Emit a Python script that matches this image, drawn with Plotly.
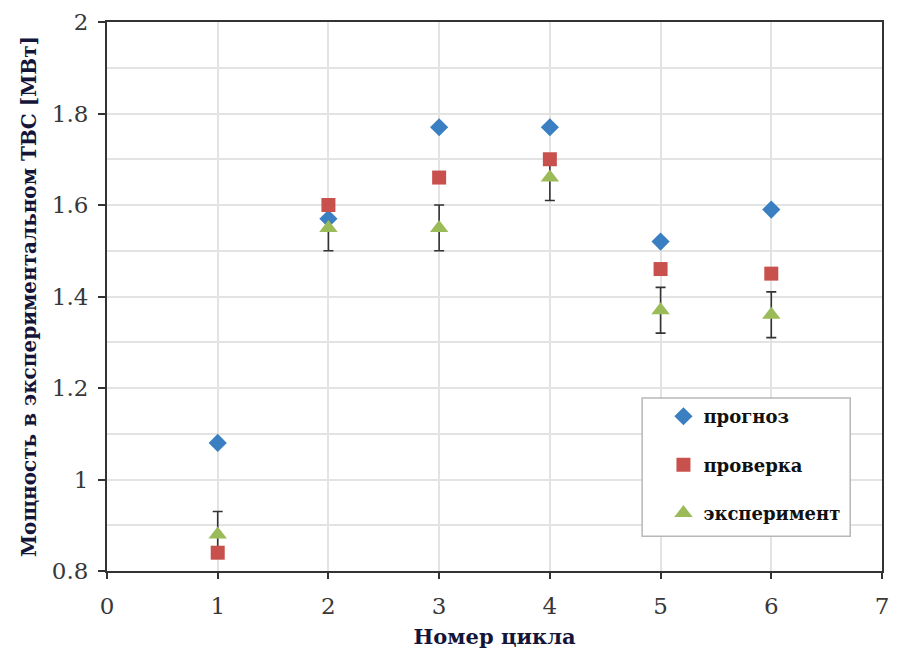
import plotly.graph_objects as go

cycles = [1, 2, 3, 4, 5, 6]
forecast = [1.08, 1.57, 1.77, 1.77, 1.52, 1.59]
check = [0.84, 1.60, 1.66, 1.70, 1.46, 1.45]
experiment = [0.88, 1.55, 1.55, 1.66, 1.37, 1.36]
experiment_err = [0.05, 0.05, 0.05, 0.05, 0.05, 0.05]

serif = "DejaVu Serif"
title_color = "#15153a"

fig = go.Figure()

# error bars of the measurement, drawn beneath all markers
fig.add_trace(go.Scatter(
    x=cycles, y=experiment, mode="markers",
    marker=dict(size=1, color="rgba(0,0,0,0)"),
    error_y=dict(type="data", array=experiment_err, visible=True,
                 color="#333333", thickness=1.6, width=5),
    showlegend=False, hoverinfo="skip",
))

fig.add_trace(go.Scatter(
    x=cycles, y=forecast, mode="markers", name="прогноз",
    legendgroup="a",
    marker=dict(symbol="diamond", size=14, color="#3a7fc1"),
))
fig.add_trace(go.Scatter(
    x=cycles, y=check, mode="markers", name="проверка",
    legendgroup="b",
    marker=dict(symbol="square", size=14, color="#c8504d"),
))
fig.add_trace(go.Scatter(
    x=cycles, y=experiment, mode="markers", name="эксперимент",
    legendgroup="c",
    marker=dict(symbol="triangle-up", size=16, color="#9bbb59"),
))

# framed box behind the legend entries
fig.add_shape(
    type="rect", xref="paper", yref="paper",
    x0=0.6905, x1=0.959, y0=0.0634, y1=0.315,
    fillcolor="white", line=dict(color="#b8b8b8", width=1.5),
    layer="above",
)

fig.update_layout(
    width=898, height=660,
    margin=dict(l=107, r=9, t=19, b=89),
    plot_bgcolor="white", paper_bgcolor="white",
    font=dict(family=serif, color="#333333"),
    legend=dict(
        x=0.718, y=0.315, xanchor="left", yanchor="top",
        bgcolor="rgba(0,0,0,0)", borderwidth=0,
        font=dict(family=serif, size=18, color="#111111", weight="bold"),
        traceorder="grouped", tracegroupgap=22,
    ),
    xaxis=dict(
        range=[0, 7], dtick=1, tick0=0,
        showgrid=True, gridcolor="#e3e3e3", gridwidth=1.5,
        zeroline=False, showline=True, linecolor="#333333", linewidth=2,
        mirror=True,
        ticks="outside", ticklen=6, tickwidth=1.5, tickcolor="#333333",
        ticklabelstandoff=7,
        tickfont=dict(family=serif, size=23, color="#383838"),
        title=dict(text="Номер цикла",
                   font=dict(family=serif, size=21, color=title_color, weight="bold"),
                   standoff=12),
    ),
    yaxis=dict(
        range=[0.8, 2.0], dtick=0.2, tick0=0.8,
        showgrid=True, gridcolor="#e3e3e3", gridwidth=1.5,
        minor=dict(dtick=0.1, showgrid=True, gridcolor="#e3e3e3", gridwidth=1.5),
        zeroline=False, showline=True, linecolor="#333333", linewidth=2,
        mirror=True,
        ticks="outside", ticklen=7, tickwidth=1.5, tickcolor="#333333",
        ticklabelstandoff=5,
        tickfont=dict(family=serif, size=23, color="#383838"),
        tickformat="~g",
        title=dict(text="Мощность в экспериментальном ТВС [МВт]",
                   font=dict(family=serif, size=20, color=title_color, weight="bold"),
                   standoff=10),
    ),
)

fig.write_html("out.html")
